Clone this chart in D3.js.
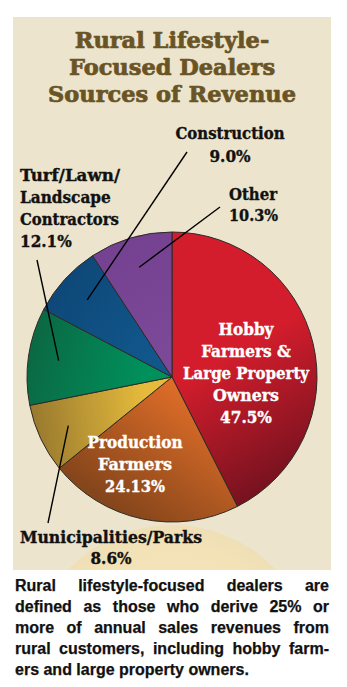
<!DOCTYPE html>
<html><head><meta charset="utf-8">
<script src="https://cdn.jsdelivr.net/npm/d3@7"></script>
<style>body{margin:0;background:#fff}svg{display:block}</style>
</head><body>
<svg id="c" width="347" height="687"></svg>
<script>
// ---------- data ----------
const titleLines = ["Rural Lifestyle-", "Focused Dealers", "Sources of Revenue"];
const categories = ["Hobby Farmers & Large Property Owners", "Production Farmers", "Municipalities/Parks",
  "Turf/Lawn/Landscape Contractors", "Construction", "Other"];
const values = [47.5, 24.13, 8.6, 12.1, 9.0, 10.3];
const valueLabels = ["47.5%", "24.13%", "8.6%", "12.1%", "9.0%", "10.3%"];
const labelLines = [["Hobby", "Farmers &", "Large Property", "Owners"], ["Production", "Farmers"],
  ["Municipalities/Parks"], ["Turf/Lawn/", "Landscape", "Contractors"], ["Construction"], ["Other"]];
const captionLines = ["Rural lifestyle-focused dealers are", "defined as those who derive 25% or",
  "more of annual sales revenues from", "rural customers, including hobby farm-", "ers and large property owners."];

// ---------- styles / layout ----------
const sliceStyle = [
  {light: "#d41d2c", dark: "#76121f", angle: 150, from: 0.05, to: 1.0},
  {light: "#dc6c28", dark: "#86461b", angle: 215, from: 0.05, to: 0.95},
  {light: "#e6bb3c", dark: "#98792e", angle: 262, from: 0.2, to: 1.0},
  {light: "#00905c", dark: "#0b6843", angle: 285, from: 0.2, to: 1.0},
  {light: "#11578c", dark: "#0e4878", angle: 310, from: 0.2, to: 1.0},
  {light: "#7c4898", dark: "#744290", angle: 340, from: 0.2, to: 1.0}
];
const labelLayout = [
  {x: 246, y: 335, lh: 22, anchor: "middle", fill: "#fff", widths: [55, 91, 126, 66, 51]},
  {x: 135, y: 448, lh: 22, anchor: "middle", fill: "#fff", widths: [94, 74, 60]},
  {x: 111, y: 543, lh: 21, anchor: "middle", fill: "#111", widths: [182, 41], leader: [48, 523]},
  {x: 20, y: 181, lh: 22, anchor: "start", fill: "#111", widths: [100, 91, 99, 51], leader: [37, 260]},
  {x: 230, y: 139, lh: 23, anchor: "middle", fill: "#111", widths: [109, 41], leader: [187, 152]},
  {x: 229, y: 200, lh: 21, anchor: "start", fill: "#111", widths: [48, 49], leader: [220, 207]}
];
const W = 347, H = 687;
const panel = {x: 13, y: 17, w: 318, h: 553, fill: "#ece4cc"};
const cx = 172, cy = 377, R = 145;
const labelFont = "'DejaVu Serif Condensed','DejaVu Serif',serif";
const titleFont = "'DejaVu Serif',serif";

const svg = d3.select("#c");
const defs = svg.append("defs");

function fit(t, w) {
  const n = t.node().getComputedTextLength();
  if (w && Math.abs(n - w) / w > 0.02) t.attr("textLength", w).attr("lengthAdjust", "spacingAndGlyphs");
}

// background
svg.append("rect").attr("width", W).attr("height", H).attr("fill", "#fff");
svg.append("rect").attr("x", panel.x).attr("y", panel.y).attr("width", panel.w).attr("height", panel.h).attr("fill", panel.fill);

// glow below pie
defs.append("clipPath").attr("id", "pclip").append("rect")
  .attr("x", panel.x).attr("y", panel.y).attr("width", panel.w).attr("height", panel.h);
const rg = defs.append("radialGradient").attr("id", "glow");
rg.append("stop").attr("offset", "0%").attr("stop-color", "#f6e8c2");
rg.append("stop").attr("offset", "85%").attr("stop-color", "#f3e2b6");
rg.append("stop").attr("offset", "100%").attr("stop-color", "#efdfb6");
svg.append("circle").attr("cx", cx).attr("cy", 668).attr("r", 143)
  .attr("fill", "url(#glow)").attr("clip-path", "url(#pclip)");

// title
const titleYs = [48, 75, 102];
const titleWidths = [198, 206, 250];
titleLines.forEach((s, i) => {
  const t = svg.append("text").attr("x", 172).attr("y", titleYs[i]).attr("text-anchor", "middle")
    .attr("font-family", titleFont).attr("font-weight", "bold").attr("font-size", 22.5)
    .attr("fill", "#6a5426").attr("stroke", "#6a5426").attr("stroke-width", 0.7)
    .attr("stroke-linejoin", "round").text(s);
  fit(t, titleWidths[i]);
});

// pie
const pie = d3.pie().sort(null).value(d => d);
const arcs = pie(values);
const arc = d3.arc().innerRadius(0).outerRadius(R);
const g = svg.append("g").attr("transform", `translate(${cx},${cy})`);

arcs.forEach((a, i) => {
  const st = sliceStyle[i];
  const th = st.angle * Math.PI / 180;
  const dx = Math.sin(th), dy = -Math.cos(th);
  const lg = defs.append("linearGradient").attr("id", "sg" + i).attr("gradientUnits", "userSpaceOnUse")
    .attr("x1", dx * R * st.from).attr("y1", dy * R * st.from)
    .attr("x2", dx * R * st.to).attr("y2", dy * R * st.to);
  lg.append("stop").attr("offset", "0%").attr("stop-color", st.light);
  lg.append("stop").attr("offset", "100%").attr("stop-color", st.dark);
});

g.selectAll("path.slice").data(arcs).join("path").attr("class", "slice")
  .attr("d", arc).attr("fill", (d, i) => `url(#sg${i})`)
  .attr("stroke", "#2e2a26").attr("stroke-width", 1).attr("stroke-linejoin", "round");

// leader lines
const inner = d3.arc().innerRadius(R * 0.79).outerRadius(R * 0.79);
arcs.forEach((a, i) => {
  const L = labelLayout[i];
  if (!L.leader) return;
  const [px, py] = inner.centroid(a);
  svg.append("line").attr("x1", cx + px).attr("y1", cy + py)
    .attr("x2", L.leader[0]).attr("y2", L.leader[1])
    .attr("stroke", "#000").attr("stroke-width", 1.4);
});

// labels
arcs.forEach((a, i) => {
  const L = labelLayout[i];
  const lines = labelLines[i].concat([valueLabels[i]]);
  lines.forEach((s, j) => {
    const t = svg.append("text").attr("x", L.x).attr("y", L.y + j * L.lh)
      .attr("text-anchor", L.anchor).attr("font-family", labelFont).attr("font-weight", "bold")
      .attr("font-size", 17).attr("fill", L.fill)
      .attr("stroke", L.fill).attr("stroke-width", 0.35).text(s);
    fit(t, L.widths[j]);
  });
});

// caption (justified)
const capX0 = 15, capX1 = 329, capY0 = 591, capLH = 21;
const capFont = "'Liberation Sans',Arial,sans-serif";
captionLines.forEach((line, i) => {
  const y = capY0 + i * capLH;
  const t = svg.append("text").attr("y", y).attr("font-family", capFont).attr("font-weight", "bold")
    .attr("font-size", 16).attr("fill", "#111").attr("stroke", "#111").attr("stroke-width", 0.25);
  if (i === captionLines.length - 1) { t.attr("x", capX0).text(line); return; }
  const words = line.split(" ");
  const ws = words.map(w => {
    const m = t.append("tspan").text(w);
    const v = m.node().getComputedTextLength(); m.remove(); return v;
  });
  const tot = d3.sum(ws);
  const gap = (capX1 - capX0 - tot) / (words.length - 1);
  let x = capX0;
  words.forEach((w, k) => { t.append("tspan").attr("x", x).text(w); x += ws[k] + gap; });
});
</script>
</body></html>
